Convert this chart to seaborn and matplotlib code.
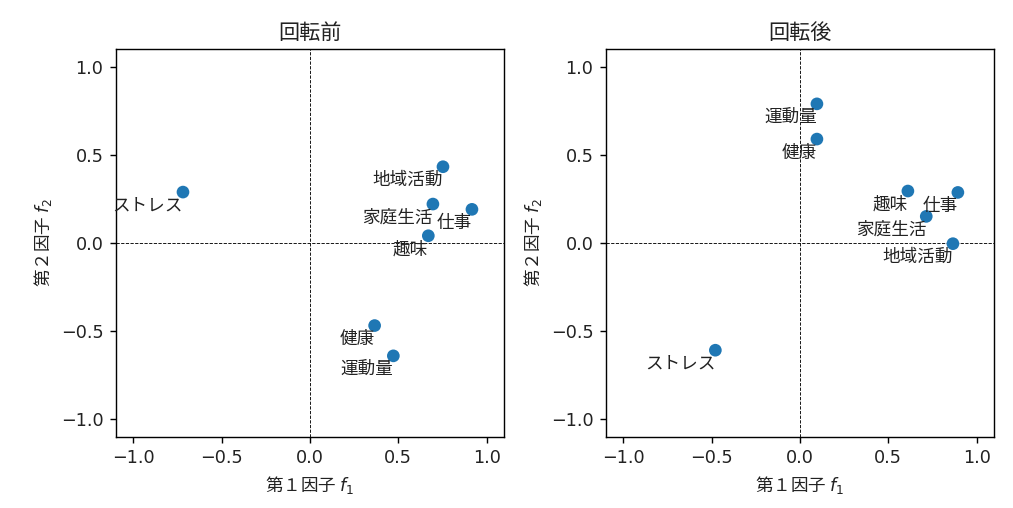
import matplotlib
matplotlib.use("Agg")
import matplotlib.pyplot as plt
import seaborn as sns
import pandas as pd

names = ["仕事", "趣味", "家庭生活", "地域活動", "健康", "運動量", "ストレス"]
before_f1 = [0.917, 0.670, 0.696, 0.753, 0.366, 0.472, -0.719]
before_f2 = [0.191, 0.041, 0.221, 0.433, -0.469, -0.641, 0.289]
after_f1 = [0.894, 0.611, 0.715, 0.866, 0.096, 0.096, -0.479]
after_f2 = [0.287, 0.295, 0.151, -0.004, 0.590, 0.790, -0.609]
titles = ["回転前", "回転後"]
xlabel = "第１因子 $f_1$"
ylabel = "第２因子 $f_2$"
ticks = [-1.0, -0.5, 0.0, 0.5, 1.0]

plt.rcParams['font.family'] = ['DejaVu Sans', 'Noto Sans CJK JP']
plt.rcParams['axes.unicode_minus'] = True
plt.rcParams['text.color'] = '#222222'
plt.rcParams['xtick.labelcolor'] = '#222222'
plt.rcParams['ytick.labelcolor'] = '#222222'
plt.rcParams['axes.labelcolor'] = '#222222'

dpi = 126.6
fig = plt.figure(figsize=(1013 / dpi, 508 / dpi), dpi=dpi)
positions = [[0.1142, 0.1404, 0.3836, 0.7626], [0.5979, 0.1404, 0.3836, 0.7626]]

datasets = [(before_f1, before_f2), (after_f1, after_f2)]
for pos, title, (f1, f2) in zip(positions, titles, datasets):
    ax = fig.add_axes(pos)
    df = pd.DataFrame({"f1": f1, "f2": f2, "name": names})
    sns.scatterplot(data=df, x="f1", y="f2", ax=ax, color="#1f77b4",
                    s=52, edgecolor="none", zorder=3)
    for _, r in df.iterrows():
        ax.annotate(r["name"], (r.f1, r.f2), xytext=(0, -2.5),
                    textcoords="offset points", ha="right", va="top",
                    fontsize=10, color="#222222", family=['Noto Sans CJK JP'])
    ax.axhline(0, color="black", linestyle="--", linewidth=0.5, zorder=1)
    ax.axvline(0, color="black", linestyle="--", linewidth=0.5, zorder=1)
    ax.set_xlim(-1.1, 1.1)
    ax.set_ylim(-1.1, 1.1)
    ax.set_xticks(ticks)
    ax.set_yticks(ticks)
    ax.set_title(title, family=['Noto Sans CJK JP'])
    ax.set_xlabel(xlabel, family=['Noto Sans CJK JP', 'DejaVu Sans'])
    ax.set_ylabel(ylabel, family=['Noto Sans CJK JP', 'DejaVu Sans'])

fig.savefig("out.png", dpi=dpi)
